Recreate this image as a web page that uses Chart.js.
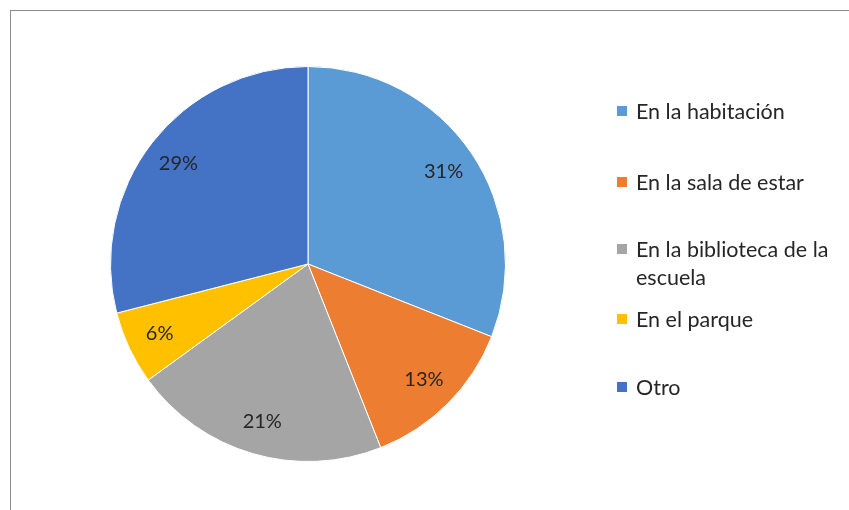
<!DOCTYPE html>
<html>
<head>
<meta charset="utf-8">
<script src="https://cdn.jsdelivr.net/npm/chart.js@4"></script>
<style>
  html, body { margin: 0; padding: 0; background: #fff; }
  #wrap { position: relative; width: 849px; height: 510px; overflow: hidden; }
  #frame { position: absolute; left: 10px; top: 10px; width: 900px; height: 600px; border: 1px solid #8c8c8c; border-right: none; border-bottom: none; }
  #pie { position: absolute; left: 0; top: 0; }
  .item { position: absolute; left: 617px; width: 225px; font-family: Lato, "Open Sans", sans-serif; font-size: 21.5px; line-height: 28px; color: #262626; }
  .item .sw { position: absolute; left: 0; top: 9px; width: 10px; height: 10px; }
  .item .tx { margin-left: 19px; display: block; }
</style>
</head>
<body>
<div id="wrap">
  <div id="frame"></div>
  <canvas id="pie" width="849" height="510"></canvas>
  <div id="legend"></div>
</div>
<script>
const categories = ['En la habitación', 'En la sala de estar', 'En la biblioteca de la escuela', 'En el parque', 'Otro'];
const percentages = [31, 13, 21, 6, 29];
const colors = ['#5b9bd5', '#ed7d31', '#a5a5a5', '#ffc000', '#4472c4'];

// legend rows, top of each entry in px
const legendTops = [97, 168, 235, 305, 373];

const legend = document.getElementById('legend');
categories.forEach(function (name, i) {
  const div = document.createElement('div');
  div.className = 'item';
  div.style.top = legendTops[i] + 'px';
  div.innerHTML = '<span class="sw" style="background:' + colors[i] + '"></span><span class="tx">' + name + '</span>';
  legend.appendChild(div);
});

// percent labels inside each slice
const sliceLabels = {
  id: 'sliceLabels',
  afterDatasetsDraw(chart) {
    const ctx = chart.ctx;
    const meta = chart.getDatasetMeta(0);
    ctx.save();
    ctx.font = '20px Lato, "Open Sans", sans-serif';
    ctx.fillStyle = '#262626';
    ctx.textAlign = 'center';
    ctx.textBaseline = 'middle';
    meta.data.forEach(function (arc, i) {
      const p = arc.getProps(['x', 'y', 'startAngle', 'endAngle', 'outerRadius'], true);
      const mid = (p.startAngle + p.endAngle) / 2;
      const r = p.outerRadius * 0.83;
      ctx.fillText(percentages[i] + '%', p.x + Math.cos(mid) * r, p.y + Math.sin(mid) * r);
    });
    ctx.restore();
  }
};

new Chart(document.getElementById('pie'), {
  type: 'pie',
  data: {
    labels: categories,
    datasets: [{
      data: percentages,
      backgroundColor: colors,
      borderColor: '#ffffff',
      borderWidth: 1
    }]
  },
  options: {
    responsive: false,
    animation: false,
    layout: { padding: { left: 108, right: 341, top: 66, bottom: 48 } },
    plugins: {
      legend: { display: false },
      tooltip: { enabled: false }
    }
  },
  plugins: [sliceLabels]
});
</script>
</body>
</html>
